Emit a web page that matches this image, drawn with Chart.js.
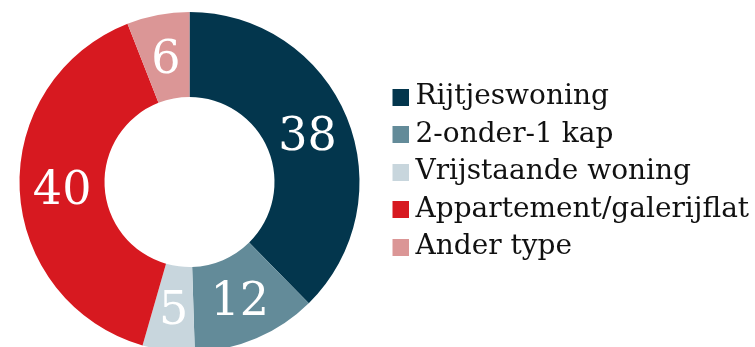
<!DOCTYPE html>
<html>
<head>
<meta charset="utf-8">
<script src="https://cdn.jsdelivr.net/npm/chart.js@4/dist/chart.umd.min.js"></script>
<style>
  html, body { margin: 0; padding: 0; background: #fff; overflow: hidden; }
  #wrap { width: 755px; height: 364px; }
</style>
</head>
<body>
<div id="wrap"><canvas id="myChart" width="755" height="364"></canvas></div>
<script>
// woningtypes en aandelen
const labels = ['Rijtjeswoning', '2-onder-1 kap', 'Vrijstaande woning', 'Appartement/galerijflat', 'Ander type']
const values = [38, 12, 5, 40, 6]
const colors = ['#03364d', '#638b99', '#c8d6dd', '#d71920', '#db9696']

// legendablokje als plaatje, iets naar rechts zodat het dichter bij de tekst staat
function makeBox(color) {
    const c = document.createElement('canvas')
    c.width = 30
    c.height = 17
    const g = c.getContext('2d')
    g.fillStyle = color
    g.fillRect(14, 0, 16, 17)
    return c
}
const boxes = colors.map(makeBox)

// getallen wit in het midden van elk segment
const valueLabels = {
    id: 'valueLabels',
    afterDatasetsDraw(chart) {
        const ctx = chart.ctx
        const meta = chart.getDatasetMeta(0)
        ctx.save()
        ctx.fillStyle = '#ffffff'
        ctx.font = '46px "DejaVu Serif"'
        ctx.textAlign = 'center'
        ctx.textBaseline = 'middle'
        meta.data.forEach((arc, i) => {
            const p = arc.getProps(['x', 'y', 'startAngle', 'endAngle', 'innerRadius', 'outerRadius'], true)
            const a = (p.startAngle + p.endAngle) / 2
            const r = (p.innerRadius + p.outerRadius) / 2
            ctx.fillText(String(values[i]), p.x + Math.cos(a) * r, p.y + Math.sin(a) * r + 4)
        })
        ctx.restore()
    }
}

// legenda iets omhoog schuiven
const legendShift = {
    id: 'legendShift',
    afterLayout(chart) {
        chart.legend.top -= 10
        chart.legend.bottom -= 10
    }
}

let ctx = document.getElementById('myChart').getContext('2d')
let myChart = new Chart(ctx, {
    type: 'doughnut',
    data: {
        labels: labels,
        datasets: [{
            data: values,
            backgroundColor: colors,
            borderWidth: 0
        }]
    },
    plugins: [valueLabels, legendShift],
    options: {
        responsive: false,
        maintainAspectRatio: false,
        animation: false,
        cutout: '50%',
        layout: { padding: { top: 12, bottom: 12, left: 3, right: 0 } },
        plugins: {
            tooltip: { enabled: false },
            legend: {
                position: 'right',
                maxWidth: 379,
                labels: {
                    boxWidth: 16,
                    boxHeight: 17,
                    padding: 9.5,
                    usePointStyle: true,
                    color: '#111111',
                    font: { family: '"DejaVu Serif"', size: 28 },
                    generateLabels(chart) {
                        const items = Chart.controllers.doughnut.overrides.plugins.legend.labels.generateLabels(chart)
                        items.forEach((item, i) => { item.pointStyle = boxes[i] })
                        return items
                    }
                }
            }
        }
    }
})
</script>
</body>
</html>
